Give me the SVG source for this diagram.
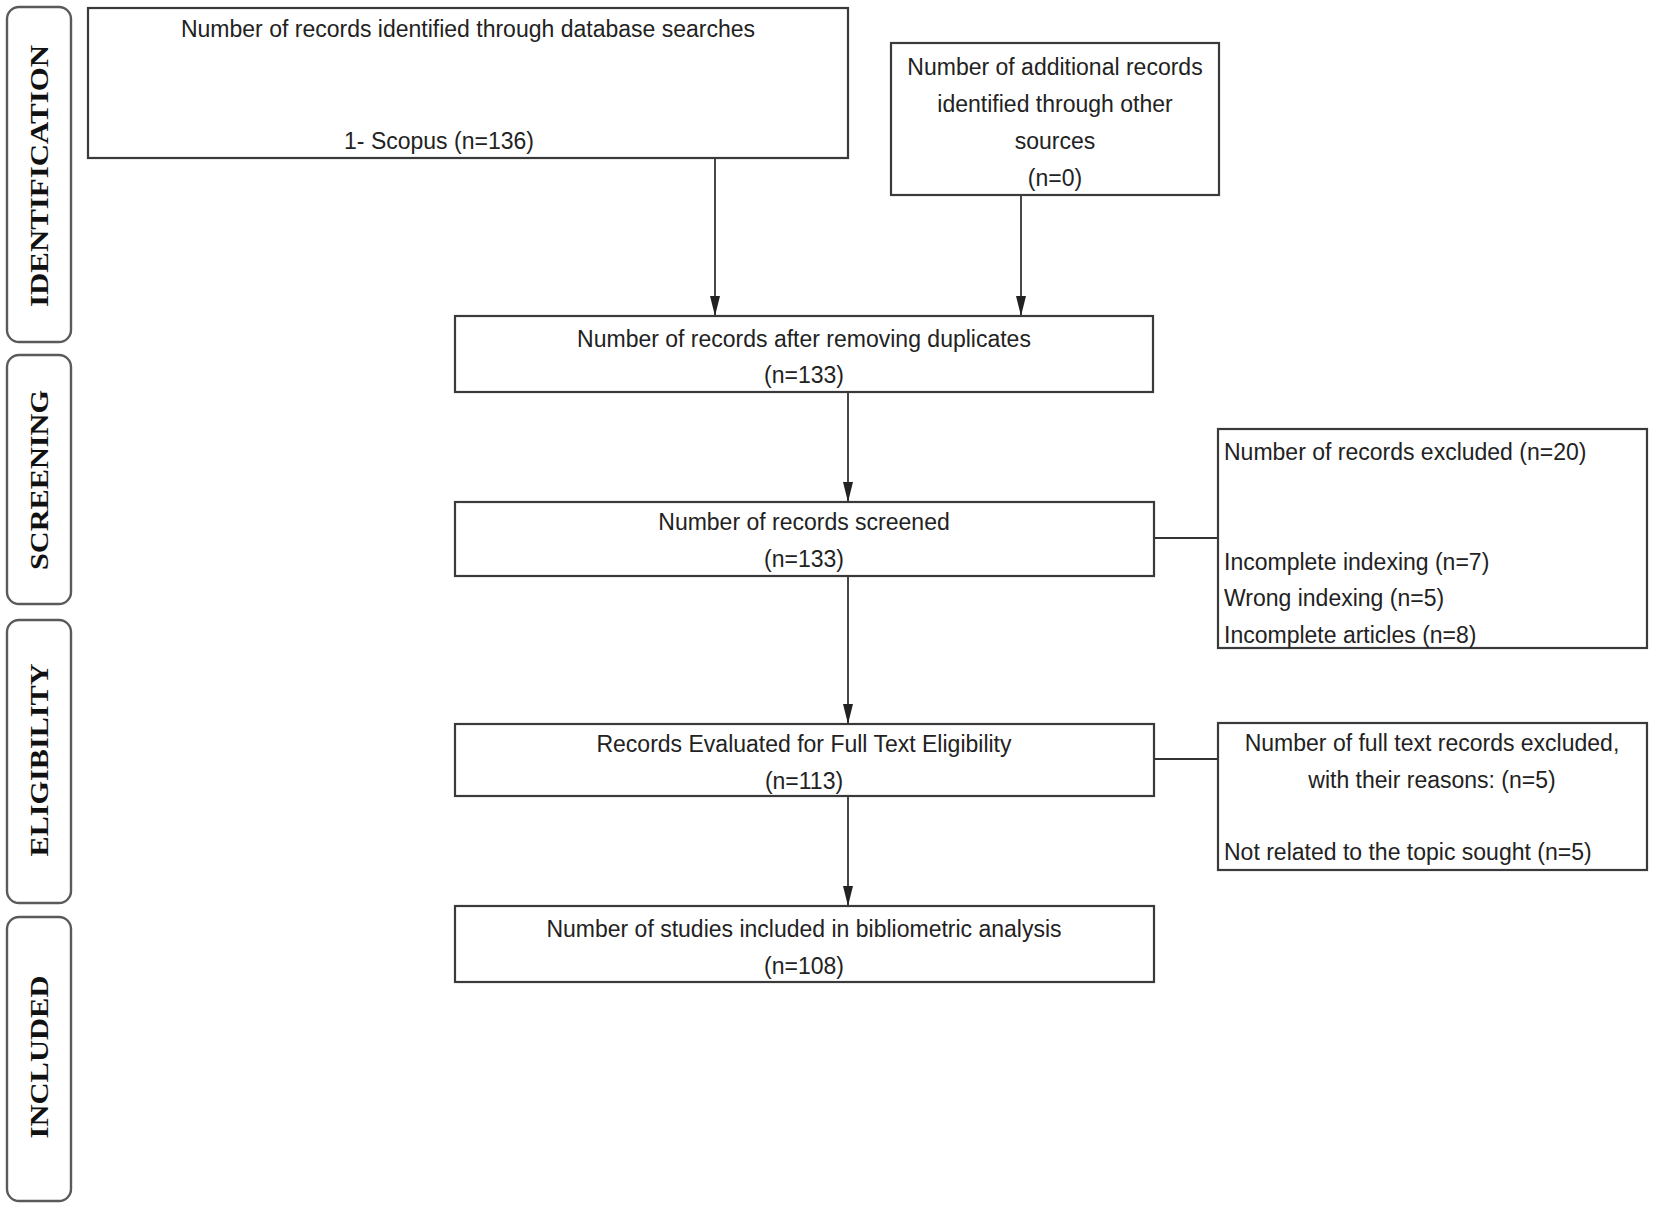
<svg xmlns="http://www.w3.org/2000/svg" width="1654" height="1209" viewBox="0 0 1654 1209">
<style>
.box{fill:#fff;stroke:#3a3a3a;stroke-width:2.2}
.side{fill:#fff;stroke:#5a5a5a;stroke-width:2.4}
.t{font-family:"Liberation Sans",Arial,sans-serif;font-size:23px;fill:#222}
.c{text-anchor:middle}
.s{font-family:"Liberation Serif","Times New Roman",serif;font-weight:bold;font-size:26px;fill:#111;text-anchor:middle}
.ln{stroke:#333;stroke-width:1.8;fill:none}
</style>
<defs>
<marker id="ah" viewBox="0 0 10 20" refX="10" refY="5" markerWidth="10" markerHeight="20" markerUnits="userSpaceOnUse" orient="auto">
<path d="M0,0 L20,5 L0,10 z" fill="#222" transform="scale(0.5,1)"/>
</marker>
<marker id="arr" viewBox="0 0 20 10" refX="20" refY="5" markerWidth="20" markerHeight="10" markerUnits="userSpaceOnUse" orient="auto">
<path d="M0,0 L20,5 L0,10 z" fill="#222"/>
</marker>
</defs>
<rect width="1654" height="1209" fill="#fff"/>

<g id="side-identification">
<rect class="side" x="7" y="7" width="64" height="335" rx="12"/>
<text class="s" transform="translate(48,176) rotate(-90)" textLength="262" lengthAdjust="spacingAndGlyphs">IDENTIFICATION</text>
</g>
<g id="side-screening">
<rect class="side" x="7" y="355" width="64" height="249" rx="12"/>
<text class="s" transform="translate(48,480) rotate(-90)" textLength="180" lengthAdjust="spacingAndGlyphs">SCREENING</text>
</g>
<g id="side-eligibility">
<rect class="side" x="7" y="620" width="64" height="283" rx="12"/>
<text class="s" transform="translate(48,760) rotate(-90)" textLength="193" lengthAdjust="spacingAndGlyphs">ELIGIBILITY</text>
</g>
<g id="side-included">
<rect class="side" x="7" y="917" width="64" height="284" rx="12"/>
<text class="s" transform="translate(48,1057) rotate(-90)" textLength="163" lengthAdjust="spacingAndGlyphs">INCLUDED</text>
</g>

<g id="connectors">
<line class="ln" x1="715" y1="158" x2="715" y2="316" marker-end="url(#arr)"/>
<line class="ln" x1="1021" y1="195" x2="1021" y2="316" marker-end="url(#arr)"/>
<line class="ln" x1="848" y1="392" x2="848" y2="502" marker-end="url(#arr)"/>
<line class="ln" x1="848" y1="576" x2="848" y2="724" marker-end="url(#arr)"/>
<line class="ln" x1="848" y1="796" x2="848" y2="906" marker-end="url(#arr)"/>
<line class="ln" x1="1154" y1="538" x2="1218" y2="538"/>
<line class="ln" x1="1154" y1="759" x2="1218" y2="759"/>
</g>

<g id="n-database">
<rect class="box" x="88" y="8" width="760" height="150"/>
<text class="t c" x="468" y="37">Number of records identified through database searches</text>
<text class="t c" x="439" y="149">1- Scopus (n=136)</text>
</g>
<g id="n-additional">
<rect class="box" x="891" y="43" width="328" height="152"/>
<text class="t c" x="1055" y="75">Number of additional records</text>
<text class="t c" x="1055" y="112">identified through other</text>
<text class="t c" x="1055" y="149">sources</text>
<text class="t c" x="1055" y="186">(n=0)</text>
</g>
<g id="n-duplicates">
<rect class="box" x="455" y="316" width="698" height="76"/>
<text class="t c" x="804" y="347">Number of records after removing duplicates</text>
<text class="t c" x="804" y="383">(n=133)</text>
</g>
<g id="n-screened">
<rect class="box" x="455" y="502" width="699" height="74"/>
<text class="t c" x="804" y="530">Number of records screened</text>
<text class="t c" x="804" y="567">(n=133)</text>
</g>
<g id="n-excluded">
<rect class="box" x="1218" y="429" width="429" height="219"/>
<text class="t" x="1224" y="460">Number of records excluded (n=20)</text>
<text class="t" x="1224" y="570">Incomplete indexing (n=7)</text>
<text class="t" x="1224" y="606">Wrong indexing (n=5)</text>
<text class="t" x="1224" y="643">Incomplete articles (n=8)</text>
</g>
<g id="n-fulltext">
<rect class="box" x="455" y="724" width="699" height="72"/>
<text class="t c" x="804" y="752">Records Evaluated for Full Text Eligibility</text>
<text class="t c" x="804" y="789">(n=113)</text>
</g>
<g id="n-fulltext-excluded">
<rect class="box" x="1218" y="723" width="429" height="147"/>
<text class="t c" x="1432" y="751">Number of full text records excluded,</text>
<text class="t c" x="1432" y="788">with their reasons: (n=5)</text>
<text class="t" x="1224" y="860">Not related to the topic sought (n=5)</text>
</g>
<g id="n-included">
<rect class="box" x="455" y="906" width="699" height="76"/>
<text class="t c" x="804" y="937">Number of studies included in bibliometric analysis</text>
<text class="t c" x="804" y="974">(n=108)</text>
</g>
</svg>
